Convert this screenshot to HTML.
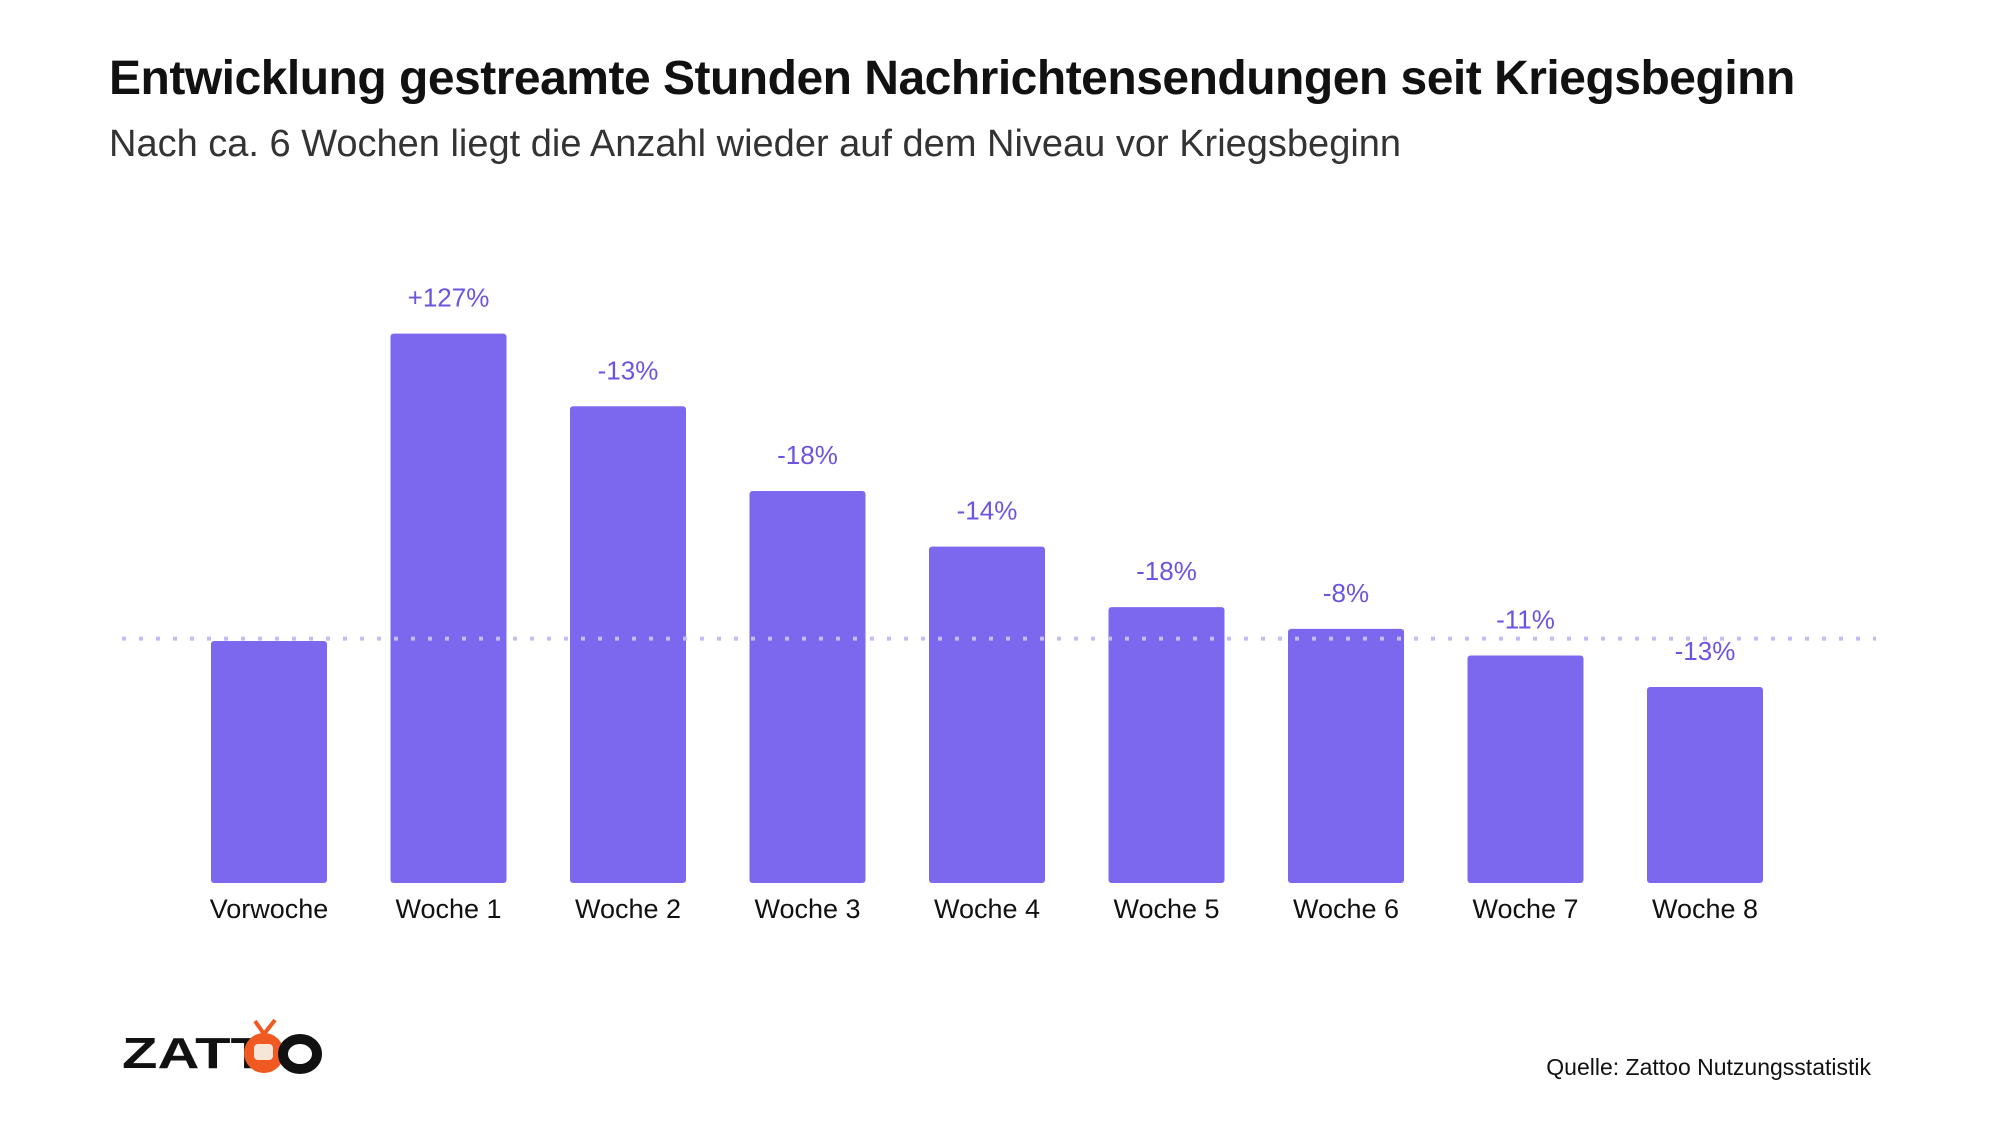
<!DOCTYPE html>
<html><head><meta charset="utf-8">
<style>
body{margin:0;width:2000px;height:1125px;background:#fff;overflow:hidden;font-family:"Liberation Sans",sans-serif;position:relative}
#title{position:absolute;left:109px;top:51px;font-size:48px;font-weight:bold;color:#111;letter-spacing:-0.5px;margin:0}
#sub{position:absolute;left:109px;top:123px;font-size:38px;letter-spacing:0px;color:#333;margin:0}
#src{position:absolute;right:129px;top:1054px;font-size:23px;color:#111}
</style></head><body>
<h1 id="title">Entwicklung gestreamte Stunden Nachrichtensendungen seit Kriegsbeginn</h1>
<p id="sub">Nach ca. 6 Wochen liegt die Anzahl wieder auf dem Niveau vor Kriegsbeginn</p>
<svg id="chart" width="2000" height="1125" style="position:absolute;left:0;top:0">
<g transform="translate(0,-4)">
<text x="122" y="1072" font-family="Liberation Sans,sans-serif" font-weight="bold" font-size="44" fill="#111" textLength="144" lengthAdjust="spacingAndGlyphs">ZATT</text>
<circle cx="264" cy="1057" r="20" fill="#f05a22"/>
<rect x="254" y="1048" width="19" height="16" rx="4" fill="#f6e6d8"/>
<line x1="264" y1="1038" x2="255" y2="1025" stroke="#f05a22" stroke-width="4"/>
<line x1="264" y1="1038" x2="275" y2="1024" stroke="#f05a22" stroke-width="4"/>
<ellipse cx="300" cy="1058" rx="17" ry="15" fill="none" stroke="#111" stroke-width="10"/>
</g>
</svg>
<div id="src">Quelle: Zattoo Nutzungsstatistik</div>
<script>
const categories=["Vorwoche","Woche 1","Woche 2","Woche 3","Woche 4","Woche 5","Woche 6","Woche 7","Woche 8"];
const values=[100,227,197,162,139,114,105,94,81];
const labels=["","+127%","-13%","-18%","-14%","-18%","-8%","-11%","-13%"];
const refValue=[101];
const NS="http://www.w3.org/2000/svg";
const svg=document.getElementById('chart');
const base=883,scale=2.42,x0=269,pitch=179.5,bw=116;
const xPos=i=>x0+i*pitch;
const yPos=v=>base-v*scale;
function mk(t,a){const e=document.createElementNS(NS,t);for(const k in a)e.setAttribute(k,a[k]);svg.appendChild(e);return e;}
categories.forEach((c,i)=>{
  const b=mk('rect',{x:xPos(i)-bw/2,y:yPos(values[i]),width:bw,height:values[i]*scale,rx:3,fill:'#7b68ee'});
  
  
  const t=mk('text',{x:xPos(i),y:base+35,'text-anchor':'middle','font-size':27,fill:'#111'});
  t.textContent=c;
  
  
  if(labels[i]){
    const v=mk('text',{x:xPos(i),y:yPos(values[i])-27,'text-anchor':'middle','font-size':26,fill:'#6a55e0'});
    v.textContent=labels[i];
    
    
  }
});
const ln=mk('line',{x1:122,x2:1876,y1:yPos(refValue[0]),y2:yPos(refValue[0]),stroke:'#c4bcf5','stroke-width':4,'stroke-dasharray':'4 13'});


</script>
</body></html>
